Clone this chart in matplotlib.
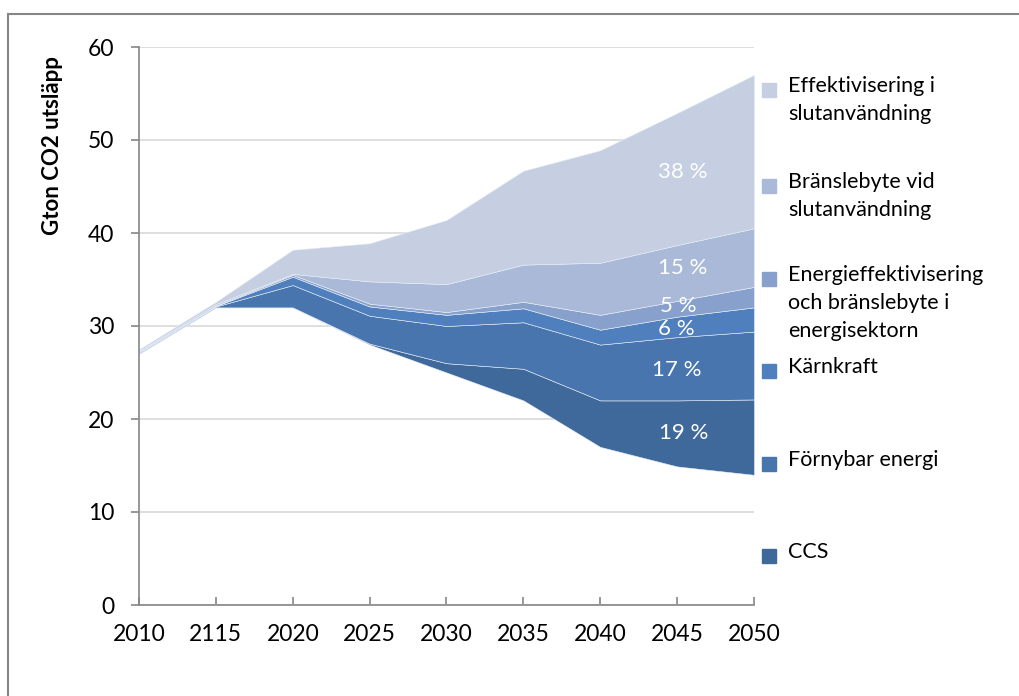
import numpy as np
import matplotlib
matplotlib.use("Agg")
from matplotlib import pyplot as plt
from matplotlib.patches import Rectangle
from matplotlib.lines import Line2D

plt.rcParams['font.family'] = ['Lato', 'DejaVu Sans']

years = ['2010', '2115', '2020', '2025', '2030', '2035', '2040', '2045', '2050']

# top edge of each stacked layer (Gton CO2)
base_top = [27.0, 32.0, 32.0, 28.0, 25.0, 22.0, 17.0, 14.9, 14.0]
ccs_top = [27.05, 32.0, 32.0, 28.1, 26.0, 25.4, 22.0, 22.0, 22.1]
fornybar_top = [27.15, 32.1, 34.4, 31.1, 30.0, 30.4, 28.0, 28.8, 29.4]
karnkraft_top = [27.2, 32.15, 35.3, 32.1, 31.2, 31.9, 29.6, 31.0, 32.0]
energieff_top = [27.25, 32.2, 35.5, 32.4, 31.5, 32.6, 31.2, 32.7, 34.2]
bransle_top = [27.35, 32.35, 35.6, 34.8, 34.5, 36.6, 36.8, 38.7, 40.5]
effektiv_top = [27.5, 32.6, 38.2, 38.9, 41.4, 46.7, 48.9, 52.9, 57.0]

labels = ['CCS', 'Förnybar energi', 'Kärnkraft',
          'Energieffektivisering\noch bränslebyte i\nenergisektorn',
          'Bränslebyte vid\nslutanvändning', 'Effektivisering i\nslutanvändning']
colors = ['#40699B', '#4875AD', '#4F80BD', '#87A1CC', '#AAB9D7', '#C5CFE1']
shares = ['19 %', '17 %', '6 %', '5 %', '15 %', '38 %']

fig = plt.figure(figsize=(10.19, 6.96), dpi=100)
W, H = 1019, 696
ax = fig.add_axes([139 / W, 1 - 605 / H, (754 - 139) / W, (605 - 47) / H])

x = np.arange(len(years))
layers = [base_top, ccs_top, fornybar_top, karnkraft_top, energieff_top, bransle_top, effektiv_top]
for i in range(1, len(layers)):
    ax.fill_between(x, layers[i - 1], layers[i], color=colors[i - 1],
                    edgecolor='#e8eef7', linewidth=0.4, zorder=2)

ax.set_xlim(0, len(years) - 1)
ax.set_ylim(0, 60)
ax.set_yticks(range(0, 61, 10))
ax.set_xticks(x)
ax.set_xticklabels(years)
ax.grid(axis='y', color='#d9d9d9', linewidth=1.2, zorder=0)
ax.set_axisbelow(True)
for s in ['top', 'right']:
    ax.spines[s].set_visible(False)
for s in ['left', 'bottom']:
    ax.spines[s].set_color('#868686')
    ax.spines[s].set_linewidth(1.2)
ax.tick_params(axis='both', colors='#868686', labelcolor='black', labelsize=16.5, length=6, width=1.2)
ax.tick_params(axis='x', direction='in', pad=14)
ax.tick_params(axis='y', direction='out', pad=12)

# y axis title, top aligned like the original
fig.text(53 / W, 1 - 56 / H, 'Gton CO2 utsläpp', rotation=90, ha='center', va='top',
         fontsize=16, fontweight='bold')

# share labels
share_pos = [(684, 433), (677, 370), (676, 329), (678, 306), (683, 268), (683, 172)]
for s, (px, py) in zip(shares, share_pos):
    fig.text(px / W, 1 - py / H, s, color='white', fontsize=16, ha='center', va='center')

# legend
leg_y = [556, 464, 371, 279, 186, 90]
for lab, c, py in zip(labels, colors, leg_y):
    fig.patches.append(Rectangle((762 / W, 1 - (py + 7) / H), 14 / W, 14 / H,
                                 transform=fig.transFigure, color=c))
    fig.text(788 / W, 1 - (py - 14) / H, lab, fontsize=15.5, ha='left', va='top',
             linespacing=1.5)

# chart border (top and left visible)
fig.add_artist(Line2D([8 / W, 1], [1 - 14 / H, 1 - 14 / H], transform=fig.transFigure,
                      color='#868686', linewidth=1.5))
fig.add_artist(Line2D([8 / W, 8 / W], [0, 1 - 14 / H], transform=fig.transFigure,
                      color='#868686', linewidth=1.5))

fig.savefig('out.png', dpi=100)
